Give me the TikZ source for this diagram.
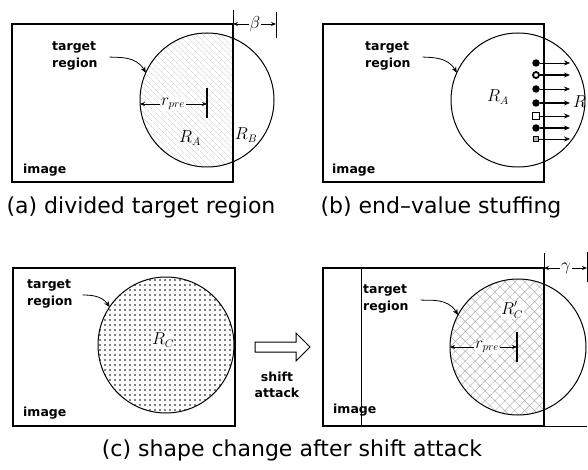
\documentclass[tikz,border=0pt]{standalone}
\usepackage{fontspec}
\setmainfont{DejaVu Sans}
\usetikzlibrary{calc,patterns.meta,arrows.meta,shapes.arrows}

\tikzset{
  imgbox/.style={line width=1.3pt},
  tgt/.style={line width=1pt},
  lbl/.style={font=\fontsize{12.5}{17}\selectfont\bfseries, align=left, inner sep=0pt},
  captxt/.style={font=\fontsize{22}{26}\selectfont, inner sep=0pt},
  sym/.style={font=\fontsize{16}{16}\selectfont, inner sep=1pt},
  dimarr/.style={-{Stealth[length=5pt,width=4pt]}, line width=0.8pt},
  ptr/.style={-{Stealth[length=6pt,width=5pt]}, line width=0.8pt},
  mkdot/.style={circle, fill, inner sep=0pt, minimum size=7.5pt},
  mkring/.style={circle, draw, fill=white, line width=1.8pt, inner sep=0pt, minimum size=6pt},
  mksq/.style={rectangle, draw, fill=white, line width=1pt, inner sep=0pt, minimum size=6.5pt},
  mkgray/.style={rectangle, draw, fill=gray!60, line width=0.8pt, inner sep=0pt, minimum size=5.5pt},
}

\begin{document}
\begin{tikzpicture}[x=1pt, y=-1pt]
    \useasboundingbox (0,0) rectangle (588,470);

    % (a) divided target region
    \coordinate[] (a1) at (12,24);
    \coordinate[] (a2) at (233,182);
    \coordinate[] (ca) at (207,100);
    \coordinate[] (a3) at (233,10);
    \coordinate[] (b1) at (276,12);
    \coordinate[] (b2) at (276,38);
    \coordinate[] (pa) at ($(ca)+(-156:67)$);
    \coordinate[] (la) at ($(ca)+(-67,4)$);
    \coordinate[] (t1) at (207,88);
    \coordinate[] (t2) at (207,118);

    \begin{scope}
        \clip (a1) rectangle (a2);
        \fill[pattern={Lines[angle=-45, distance=4pt, line width=0.3pt]}, pattern color=gray!45] (ca) circle (67);
    \end{scope}
    \draw[imgbox] (a1) rectangle (a2);
    \draw[tgt] (ca) circle (67);
    \draw[line width=0.8pt] (a2 |- a1) -- (a3);
    \draw[line width=0.8pt] (b1) -- (b2);
    \node[sym] (beta) at (255,24) {$\beta$};
    \draw[dimarr] (beta) -- (a2 |- a1);
    \draw[dimarr] (beta) -- (b1 |- a1);

    \node[lbl, anchor=west] (ta) at (52,56) {target\\region};
    \draw[ptr, shorten <=12pt] (ta.east) to[out=-5, in=120] (pa);

    \node[sym, fill=white, inner sep=0.5pt] (rpa) at (173,104) {$r_{pre}$};
    \draw[line width=1.2pt] (t1) -- (t2);
    \draw[dimarr] (rpa) -- (la);
    \draw[dimarr] (rpa) -- (t1 |- rpa);
    \node[sym] (ra) at (190,138) {$R_A$};
    \node[sym] (rb) at (246,135) {$R_B$};
    \node[lbl, anchor=west] (ia) at (23,170) {image};
    \node[captxt] (capa) at (141,207) {(a) divided target region};

    % (b) end-value stuffing
    \begin{scope}[shift={(311,0)}]
        \coordinate[] (b1) at (12,24);
        \coordinate[] (b2) at (233,182);
        \coordinate[] (cb) at (207,100);
        \coordinate[] (pb) at ($(cb)+(-156:67)$);

        \draw[imgbox] (b1) rectangle (b2);
        \draw[tgt] (cb) circle (67);
        \node[lbl, anchor=west] (tb) at (54,56) {target\\region};
        \draw[ptr, shorten <=12pt] (tb.east) to[out=-5, in=120] (pb);
        \node[sym] (rab) at (187,97) {$R_A$};

        \foreach \y/\mk/\lw [count=\i] in {63/mkdot/0.6, 75/mkring/1.3, 89/mkdot/0.6, 103/mkdot/1.3, 116/mksq/0.6, 128/mkdot/1.3, 139/mkgray/0.6}
        {
            \node[\mk] (m\i) at (225,\y) {};
            \coordinate[] (e\i) at (259,\y);
            \draw[-{Stealth[length=6pt,width=5pt]}, line width=\lw pt] (m\i) -- (e\i);
        }
        \node[sym, anchor=west] (rbb) at (261,102) {$R$};
        \node[lbl, anchor=west] (ib) at (21,170) {image};
        \node[captxt] (capb) at (130,207) {(b) end--value stuffing};
    \end{scope}

    % (c) shape change after shift attack, before the shift
    \begin{scope}[shift={(1,244)}]
        \coordinate[] (c1) at (12,24);
        \coordinate[] (c2) at (234,182);
        \coordinate[] (cc) at (165,101);
        \coordinate[] (pc) at ($(cc)+(-146:68)$);

        \fill[pattern={Dots[distance=5pt, radius=0.8pt]}] (cc) circle (68);
        \draw[imgbox] (c1) rectangle (c2);
        \draw[tgt] (cc) circle (68);
        \node[lbl, anchor=west] (tc) at (26,50) {target\\region};
        \draw[ptr, shorten <=10pt] (tc.east) to[out=-5, in=125] (pc);
        \node[sym, fill=white, inner sep=0.5pt] (rc) at (162,96) {$R_C$};
        \node[lbl, anchor=west] (ic) at (22,169) {image};

        \node[single arrow, draw, fill=white, line width=1pt, inner sep=4.5pt,
              minimum height=55pt, single arrow head extend=9pt] (shift) at (279,103) {};
        \node[lbl, align=center, font=\fontsize{12.5}{16}\selectfont\bfseries] (sa) at (276,141) {shift\\attack};
    \end{scope}

    % (c) after the shift
    \begin{scope}[shift={(311,244)}]
        \coordinate[] (d1) at (12,24);
        \coordinate[] (d2) at (233,182);
        \coordinate[] (cd) at (207,103);
        \coordinate[] (pd) at ($(cd)+(-152:68)$);
        \coordinate[] (d3) at (233,9);
        \coordinate[] (g1) at (276,8);
        \coordinate[] (g2) at (276,38);
        \coordinate[] (s1) at (50,24);
        \coordinate[] (s2) at (50,182);
        \coordinate[] (ld) at ($(cd)+(-68,0)$);
        \coordinate[] (u1) at (206,88);
        \coordinate[] (u2) at (206,118);

        \begin{scope}
            \clip (d1) rectangle (d2);
            \fill[pattern={Hatch[angle=45, distance=7pt, line width=0.45pt]}, pattern color=gray!65] (cd) circle (68);
        \end{scope}
        \draw[imgbox] (d1) rectangle (d2);
        \draw[line width=0.8pt] (s1) -- (s2);
        \draw[line width=0.8pt] (d2) -- (d3);
        \draw[line width=0.8pt] (d2) -- (g1 |- d2);
        \draw[line width=0.8pt] (g1) -- (g2);
        \draw[tgt] (cd) circle (68);
        \node[sym] (gam) at (255,24) {$\gamma$};
        \draw[dimarr] (gam) -- (d2 |- d1);
        \draw[dimarr] (gam) -- (g1 |- d1);

        \node[lbl, anchor=west] (td) at (52,55) {target\\region};
        \draw[ptr, shorten <=12pt] (td.east) to[out=-5, in=120] (pd);
        \node[sym, fill=white, inner sep=0.5pt] (rpd) at (176,103) {$r_{pre}$};
        \draw[line width=1.2pt] (u1) -- (u2);
        \draw[dimarr] (rpd) -- (ld);
        \draw[dimarr] (rpd) -- (u1 |- rpd);
        \node[sym, fill=white, inner sep=0.5pt] (rcd) at (201,66) {$R'_C$};
        \node[lbl, anchor=west] (id) at (22,166) {image};
    \end{scope}

    \node[captxt] (capc) at (292,450) {(c) shape change after shift attack};
\end{tikzpicture}
\end{document}
